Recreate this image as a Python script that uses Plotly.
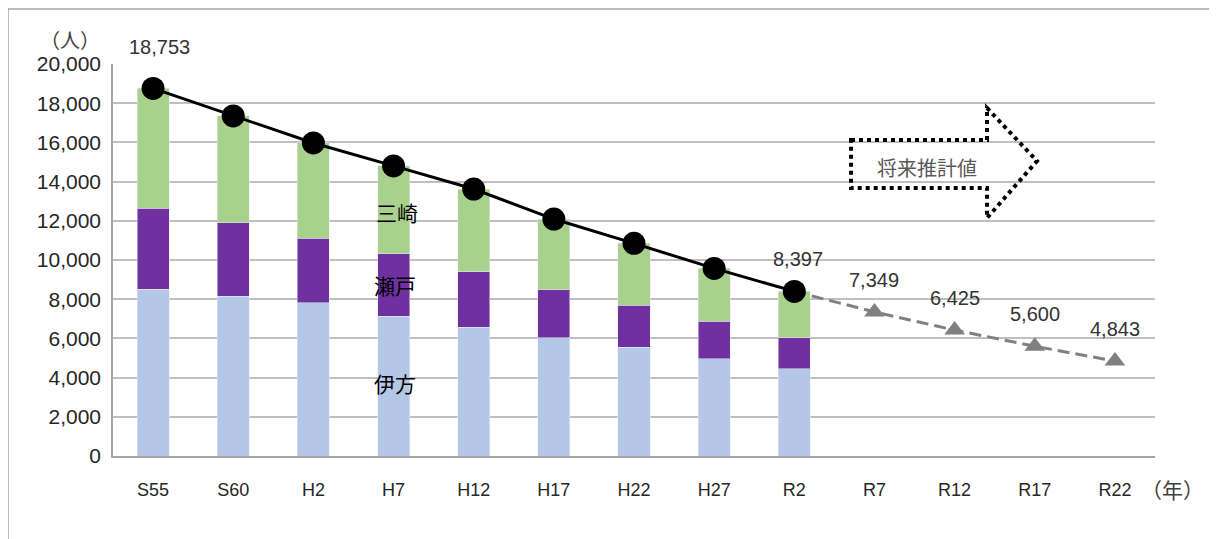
import plotly.graph_objects as go

categories = ["S55", "S60", "H2", "H7", "H12", "H17", "H22", "H27", "R2", "R7", "R12", "R17", "R22"]
ikata = [8520, 8160, 7810, 7140, 6580, 6040, 5550, 4970, 4460]
seto = [4130, 3730, 3310, 3170, 2810, 2430, 2140, 1900, 1580]
misaki_total = [18753, 17350, 15970, 14800, 13620, 12090, 10850, 9570, 8397]
projection = [8397, 7349, 6425, 5600, 4843]
misaki = [t - a - b for t, a, b in zip(misaki_total, ikata, seto)]

# page body offset of the figure inside the screenshot
OX, OY = 8, 8
W, H = 1217 - OX, 539 - OY
L, R, T, B = 113 - OX, 62, 64 - OY, 83
PW, PH = W - L - R, H - T - B


def px(x):
    return (x - OX - L) / PW


def py(y):
    return (H - B - (y - OY)) / PH


hist_cats = categories[:len(misaki_total)]
proj_cats = categories[len(misaki_total) - 1:]

fig = go.Figure()
fig.add_trace(go.Bar(x=hist_cats, y=ikata, marker_color="#b4c7e7", width=0.4, name="伊方"))
fig.add_trace(go.Bar(x=hist_cats, y=seto, marker_color="#7030a0", width=0.4, name="瀬戸"))
fig.add_trace(go.Bar(x=hist_cats, y=misaki, marker_color="#a9d18e", width=0.4, name="三崎"))
fig.add_trace(go.Scatter(x=proj_cats, y=projection, mode="lines+markers",
                         line=dict(color="#808080", width=3, dash="12px,6px"),
                         marker=dict(symbol="triangle-up", size=18, color="#808080")))
fig.add_trace(go.Scatter(x=hist_cats, y=misaki_total, mode="lines+markers",
                         line=dict(color="black", width=3),
                         marker=dict(symbol="circle", size=23, color="black")))

annots = []
lab_font = dict(family="Liberation Sans, Arial", size=20, color="#333333")
annots.append(dict(x=hist_cats[0], y=misaki_total[0], text=f"{misaki_total[0]:,}", showarrow=False,
                   yshift=41, xshift=6, font=lab_font))
annots.append(dict(x=hist_cats[-1], y=misaki_total[-1], text=f"{misaki_total[-1]:,}", showarrow=False,
                   yshift=32, xshift=4, font=lab_font))
for c, v in zip(proj_cats[1:], projection[1:]):
    annots.append(dict(x=c, y=v, text=f"{v:,}", showarrow=False, yshift=32, font=lab_font))


def txt(x, y, s, font):
    return dict(xref="paper", yref="paper", x=px(x), y=py(y), text=s, showarrow=False,
                xanchor="center", yanchor="middle", font=font)


name_font = dict(family="Noto Sans CJK JP", size=21, color="black")
annots.append(txt(397, 212, "三崎", name_font))
annots.append(txt(395, 285, "瀬戸", name_font))
annots.append(txt(395, 383, "伊方", name_font))
annots.append(txt(927, 167, "将来推計値", dict(family="Noto Sans CJK JP", size=20, color="#595959")))
annots.append(txt(70, 40, "（人）", dict(family="Noto Sans CJK JP", size=20, color="#404040")))
annots.append(txt(1172, 489, "（年）", dict(family="Noto Sans CJK JP", size=21, color="#404040")))

pts = [(851, 140), (987, 140), (987, 108), (1037, 161), (987, 218), (987, 188), (851, 188)]
path = "M " + " L ".join(f"{px(x):.5f},{py(y):.5f}" for x, y in pts) + " Z"
shapes = [
    dict(type="path", xref="paper", yref="paper", path=path,
         line=dict(color="black", width=4, dash="dot")),
    dict(type="line", xref="paper", yref="paper", x0=px(8), x1=px(1300), y0=py(9), y1=py(9),
         line=dict(color="#a6a6a6", width=1.5)),
    dict(type="line", xref="paper", yref="paper", x0=px(8), x1=px(8), y0=py(9), y1=py(600),
         line=dict(color="#a6a6a6", width=1.5)),
]

fig.update_layout(
    width=W, height=H,
    margin=dict(l=L, r=R, t=T, b=B),
    barmode="stack",
    showlegend=False,
    plot_bgcolor="white", paper_bgcolor="white",
    annotations=annots, shapes=shapes,
    xaxis=dict(type="category", categoryorder="array", categoryarray=categories,
               range=[-0.5, len(categories) - 0.5],
               showline=True, linecolor="#a6a6a6", linewidth=1.5, showgrid=False, ticks="",
               ticklabelstandoff=17,
               tickfont=dict(family="Liberation Sans Narrow, Liberation Sans", size=18, color="#262626")),
    yaxis=dict(range=[0, 20000], dtick=2000, tickformat=",", showgrid=True, gridcolor="#bfbfbf", gridwidth=1.5,
               showline=True, linecolor="#a6a6a6", linewidth=1.5, zeroline=False, ticks="",
               ticklabelstandoff=6,
               tickfont=dict(family="Liberation Sans, Arial", size=21, color="#262626")),
)

fig.write_html("out.html")
